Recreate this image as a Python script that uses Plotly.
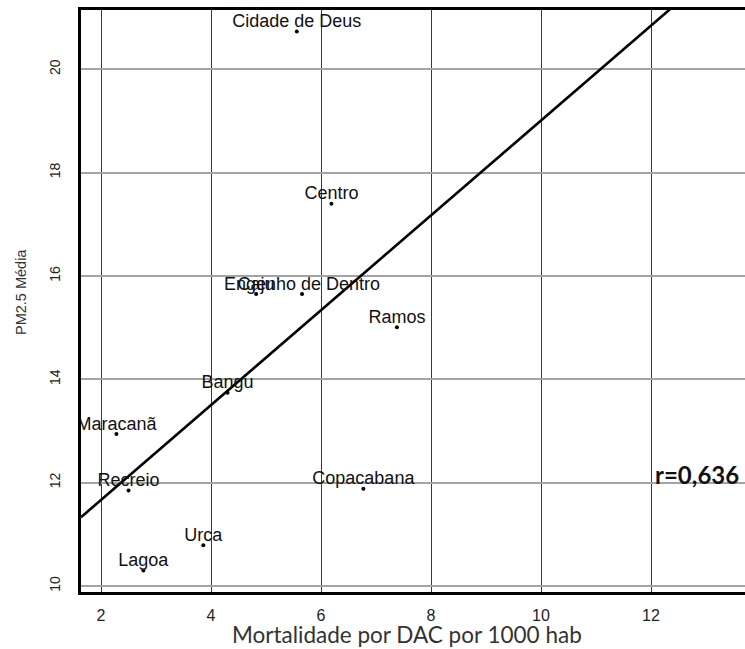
import numpy as np
import plotly.graph_objects as go

# Bairros do Rio de Janeiro: mortalidade por DAC x PM2.5 média
bairros = ["Cidade de Deus", "Centro", "Engenho de Dentro", "Caju", "Ramos",
           "Bangu", "Maracanã", "Recreio", "Copacabana", "Urca", "Lagoa"]
mortalidade = [5.56, 6.19, 5.655, 4.82, 7.38, 4.30, 2.28, 2.50, 6.77, 3.86, 2.77]
pm25_media = [20.73, 17.40, 15.65, 15.65, 15.01, 13.74, 12.94, 11.85, 11.88, 10.79, 10.30]

x_ticks = [2, 4, 6, 8, 10, 12]
y_ticks = [10, 12, 14, 16, 18, 20]
r_label = "r=0,636"
x_title = "Mortalidade por DAC por 1000 hab"
y_title = "PM2.5 Média"

x_range = [1.636, 13.709]
y_range = [9.884, 21.148]

# reta de regressão linear ajustada aos pontos
slope, intercept = np.polyfit(mortalidade, pm25_media, 1)
x_fit = np.array(x_range)
y_fit = intercept + slope * x_fit

fig = go.Figure()

fig.add_trace(go.Scatter(
    x=x_fit, y=y_fit, mode="lines",
    line=dict(color="black", width=2.6),
    hoverinfo="skip", showlegend=False,
))

# pontos
fig.add_trace(go.Scatter(
    x=mortalidade, y=pm25_media, mode="markers",
    marker=dict(color="black", size=4),
    cliponaxis=True, showlegend=False,
))

# nomes dos bairros acima dos pontos (recortados na área do gráfico)
fig.add_trace(go.Scatter(
    x=mortalidade, y=pm25_media, text=bairros,
    mode="text", textposition="top center",
    textfont=dict(family="Liberation Sans, Arial", size=18, color="#111111"),
    cliponaxis=True, showlegend=False, hoverinfo="skip",
))

fig.add_annotation(
    x=12.04, y=12.15, xref="x", yref="y", text=f"<b>{r_label}</b>",
    showarrow=False, xanchor="left", yanchor="middle",
    font=dict(family="Lato", size=24, color="#111111"),
)

# títulos dos eixos
fig.add_annotation(
    x=0.491, y=(592 - 634) / 582, xref="paper", yref="paper", text=x_title,
    showarrow=False, xanchor="center", yanchor="middle",
    font=dict(family="Lato", size=22.5, color="#333333"),
)
fig.add_annotation(
    x=-(81 - 21) / 664, y=(592 - 292) / 582, xref="paper", yref="paper",
    text=y_title, textangle=-90,
    showarrow=False, xanchor="center", yanchor="middle",
    font=dict(family="Liberation Sans, Arial", size=14.5, color="#333333"),
)

fig.update_layout(
    width=745, height=649,
    margin=dict(l=81, r=0, t=10, b=57),
    plot_bgcolor="white", paper_bgcolor="white",
    xaxis=dict(
        range=x_range, tickvals=x_ticks, ticktext=[str(v) for v in x_ticks],
        showgrid=True, gridcolor="#3a3a3a", gridwidth=1,
        zeroline=False, showline=True, linecolor="black", linewidth=3,
        mirror=True, ticks="", ticklabelstandoff=7,
        tickfont=dict(family="Liberation Sans, Arial", size=16, color="#222222"),
    ),
    yaxis=dict(
        range=y_range, tickvals=y_ticks, ticktext=[str(v) for v in y_ticks],
        tickangle=-90,
        showgrid=True, gridcolor="#a3a3a3", gridwidth=1.6,
        zeroline=False, showline=True, linecolor="black", linewidth=3,
        mirror=False, ticks="", ticklabelstandoff=12,
        tickfont=dict(family="Liberation Sans, Arial", size=14, color="#222222"),
    ),
)

fig.write_html("out.html")
